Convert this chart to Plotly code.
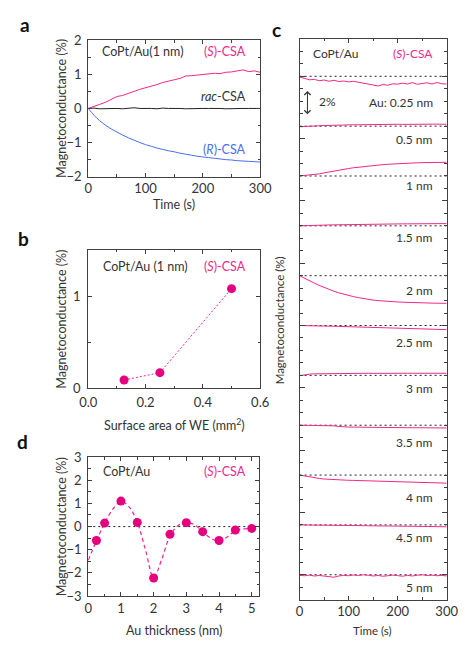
import plotly.graph_objects as go

W, H = 467, 646
FONT = "Lato"
PINK = "#F0288C"
DPINK = "#E6007E"
BLUE = "#4A6FEF"
TXT = "#333333"
AXC = "#404040"


def px(x):
    return x / W


def py(y):
    return 1 - y / H


# ---------------- data: panel a ----------------
a_time = list(range(0, 301, 10))
a_s_csa = [0.0, 0.05, 0.12, 0.18, 0.27, 0.35, 0.38, 0.45, 0.50, 0.56, 0.60,
           0.66, 0.70, 0.76, 0.79, 0.84, 0.88, 0.95, 0.96, 0.98, 0.99,
           1.01, 1.03, 1.02, 1.06, 1.07, 1.09, 1.13, 1.08, 1.10, 1.06]
a_rac_csa = [0.0, 0.01, -0.01, 0.0, 0.01, 0.0, -0.01, 0.0, 0.02, 0.0, 0.01,
             0.0, -0.01, 0.01, 0.0, 0.01, 0.0, -0.01, 0.0, 0.01, 0.0,
             0.0, 0.01, 0.0, -0.01, 0.0, 0.01, 0.0, 0.0, 0.01, 0.0]
a_r_csa = [0.0, -0.20, -0.36, -0.49, -0.60, -0.69, -0.78, -0.86, -0.93, -1.00, -1.06,
           -1.11, -1.16, -1.20, -1.24, -1.27, -1.31, -1.34, -1.37, -1.40, -1.42,
           -1.44, -1.46, -1.48, -1.50, -1.51, -1.53, -1.54, -1.55, -1.56, -1.57]

# ---------------- data: panel b ----------------
b_area = [0.125, 0.25, 0.5]
b_mc = [0.09, 0.17, 1.08]

# ---------------- data: panel d ----------------
d_thick = [0.25, 0.5, 1, 1.5, 2, 2.5, 3, 3.5, 4, 4.5, 5]
d_mc = [-0.6, 0.15, 1.1, 0.18, -2.22, -0.33, 0.17, -0.22, -0.6, -0.15, -0.08]
d_fit_x = [0, 0.25, 0.5, 0.75, 1.0, 1.25, 1.5, 1.75, 2.0, 2.25, 2.5,
           2.75, 3.0, 3.25, 3.5, 3.75, 4.0, 4.25, 4.5, 4.75, 5.0]
d_fit_y = [-1.45, -0.62, 0.15, 0.75, 1.08, 0.85, 0.18, -1.0, -2.2, -1.4, -0.4,
           0.05, 0.17, 0.08, -0.22, -0.5, -0.63, -0.45, -0.17, -0.1, -0.08]

# ---------------- data: panel c ----------------
c_time = list(range(0, 301, 10))
c_labels = ["Au: 0.25 nm", "0.5 nm", "1 nm", "1.5 nm", "2 nm", "2.5 nm",
            "3 nm", "3.5 nm", "4 nm", "4.5 nm", "5 nm"]
c_mc_025 = [-0.05, -0.15, -0.28, -0.25, -0.35, -0.30, -0.40, -0.32, -0.42, -0.38, -0.45,
            -0.40, -0.47, -0.50, -0.58, -0.70, -0.78, -0.66, -0.72, -0.60, -0.63,
            -0.55, -0.62, -0.50, -0.64, -0.58, -0.52, -0.62, -0.50, -0.60, -0.62]
c_mc_05 = [-0.05, -0.02, 0.0, 0.02, 0.04, 0.05, 0.06, 0.08, 0.08, 0.09, 0.10,
           0.11, 0.11, 0.12, 0.12, 0.13, 0.13, 0.14, 0.13, 0.14, 0.15,
           0.14, 0.15, 0.15, 0.16, 0.15, 0.16, 0.15, 0.16, 0.15, 0.16]
c_mc_1 = [0.0, 0.03, 0.05, 0.10, 0.17, 0.25, 0.33, 0.40, 0.47, 0.54, 0.60,
          0.66, 0.71, 0.76, 0.80, 0.84, 0.88, 0.91, 0.94, 0.97, 0.99,
          1.01, 1.03, 1.05, 1.06, 1.07, 1.08, 1.09, 1.10, 1.10, 1.10]
c_mc_15 = [0.0, 0.02, 0.03, 0.04, 0.05, 0.06, 0.07, 0.08, 0.09, 0.10, 0.10,
           0.11, 0.12, 0.12, 0.13, 0.13, 0.14, 0.14, 0.15, 0.15, 0.15,
           0.16, 0.16, 0.16, 0.17, 0.17, 0.17, 0.18, 0.18, 0.18, 0.18]
c_mc_2 = [0.0, -0.22, -0.42, -0.60, -0.78, -0.95, -1.10, -1.25, -1.38, -1.50, -1.60,
          -1.68, -1.76, -1.84, -1.90, -1.96, -2.00, -2.04, -2.07, -2.10, -2.11,
          -2.13, -2.15, -2.16, -2.17, -2.18, -2.19, -2.20, -2.21, -2.21, -2.22]
c_mc_25 = [0.0, 0.0, -0.01, -0.02, -0.03, -0.04, -0.05, -0.06, -0.07, -0.08, -0.09,
           -0.10, -0.11, -0.12, -0.13, -0.14, -0.15, -0.16, -0.17, -0.18, -0.20,
           -0.21, -0.22, -0.23, -0.24, -0.26, -0.27, -0.28, -0.30, -0.31, -0.33]
c_mc_3 = [-0.03, 0.05, 0.10, 0.12, 0.13, 0.14, 0.14, 0.15, 0.15, 0.15, 0.16,
          0.16, 0.16, 0.16, 0.17, 0.16, 0.17, 0.17, 0.17, 0.16, 0.17,
          0.17, 0.17, 0.17, 0.17, 0.17, 0.17, 0.17, 0.17, 0.17, 0.17]
c_mc_35 = [0.0, 0.0, -0.01, -0.01, -0.02, -0.03, -0.04, -0.05, -0.10, -0.14, -0.15,
           -0.15, -0.16, -0.16, -0.17, -0.17, -0.18, -0.18, -0.18, -0.19, -0.19,
           -0.20, -0.20, -0.20, -0.21, -0.21, -0.21, -0.22, -0.20, -0.22, -0.22]
c_mc_4 = [0.0, -0.08, -0.15, -0.21, -0.27, -0.32, -0.35, -0.37, -0.39, -0.40, -0.42,
          -0.43, -0.44, -0.45, -0.46, -0.48, -0.50, -0.51, -0.52, -0.52, -0.53,
          -0.54, -0.55, -0.55, -0.56, -0.57, -0.58, -0.59, -0.60, -0.62, -0.65]
c_mc_45 = [0.0, 0.0, -0.01, -0.01, -0.02, -0.02, -0.03, -0.03, -0.04, -0.04, -0.05,
           -0.05, -0.06, -0.06, -0.07, -0.07, -0.08, -0.08, -0.09, -0.09, -0.10,
           -0.10, -0.11, -0.11, -0.12, -0.12, -0.13, -0.13, -0.14, -0.14, -0.15]
c_mc_5 = [-0.05, -0.08, -0.03, -0.10, -0.06, -0.12, -0.15, -0.20, -0.10, -0.05, -0.08,
          -0.02, -0.06, 0.0, -0.04, -0.10, -0.06, -0.12, -0.08, -0.03, -0.07,
          -0.12, -0.05, -0.10, -0.04, 0.0, -0.06, -0.03, -0.08, -0.05, -0.10]
c_curves = [c_mc_025, c_mc_05, c_mc_1, c_mc_15, c_mc_2, c_mc_25,
            c_mc_3, c_mc_35, c_mc_4, c_mc_45, c_mc_5]

# ---------------- layout helpers ----------------
C_STEP = 4.0  # vertical offset between stacked curves in panel c (%)
label_dy = [-2.1, -1.1, -0.8, -0.9, -1.2, -1.35, -1.05, -1.4, -1.8, -1.0, -1.0]

fig = go.Figure()

# panel a
fig.add_trace(go.Scatter(x=a_time, y=a_rac_csa, mode="lines",
                         line=dict(color="#222222", width=1), xaxis="x", yaxis="y"))
fig.add_trace(go.Scatter(x=a_time, y=a_s_csa, mode="lines",
                         line=dict(color=PINK, width=1), xaxis="x", yaxis="y"))
fig.add_trace(go.Scatter(x=a_time, y=a_r_csa, mode="lines", line_shape="spline",
                         line=dict(color=BLUE, width=1), xaxis="x", yaxis="y"))

# panel b
fig.add_trace(go.Scatter(x=b_area, y=b_mc, mode="lines+markers",
                         line=dict(color=PINK, width=1, dash="2px,2px"),
                         marker=dict(color=DPINK, size=9),
                         xaxis="x2", yaxis="y2", cliponaxis=False))

# panel c
for i, (lab, curve) in enumerate(zip(c_labels, c_curves)):
    base = -C_STEP * i
    fig.add_trace(go.Scatter(x=[0, 300], y=[base, base], mode="lines",
                             line=dict(color="#222222", width=1, dash="2px,3px"),
                             xaxis="x3", yaxis="y3"))
    fig.add_trace(go.Scatter(x=c_time, y=[v + base for v in curve], mode="lines",
                             line=dict(color=PINK, width=1),
                             xaxis="x3", yaxis="y3"))

# panel d
fig.add_trace(go.Scatter(x=[0, 5.23], y=[0, 0], mode="lines",
                         line=dict(color="#222222", width=1, dash="2px,3px"),
                         xaxis="x4", yaxis="y4"))
fig.add_trace(go.Scatter(x=d_fit_x, y=d_fit_y, mode="lines", line_shape="spline",
                         line=dict(color=PINK, width=1.2, dash="4px,3px"),
                         xaxis="x4", yaxis="y4"))
fig.add_trace(go.Scatter(x=d_thick, y=d_mc, mode="markers",
                         marker=dict(color=DPINK, size=9),
                         xaxis="x4", yaxis="y4", cliponaxis=False))


def axis(domain, rng, dtick, minor_dtick, anchor, labels=True, fmt=None,
         ticklen=4, minorlen=2.5, tick0=None, standoff=None):
    d = dict(domain=domain, range=rng, dtick=dtick, anchor=anchor,
             showline=True, linecolor=AXC, linewidth=1, mirror="ticks",
             ticks="inside", ticklen=ticklen, tickcolor=AXC, tickwidth=1,
             showgrid=False, zeroline=False, showticklabels=labels,
             tickfont=dict(family=FONT, size=13, color=TXT),
             minor=dict(dtick=minor_dtick, ticks="inside", ticklen=minorlen,
                        tickcolor=AXC, showgrid=False))
    if fmt:
        d["tickformat"] = fmt
    if tick0 is not None:
        d["tick0"] = tick0
    if standoff is not None:
        d["ticklabelstandoff"] = standoff
    return d


xa = [px(83), px(263)]
fig.update_layout(
    width=W, height=H,
    margin=dict(l=0, r=0, t=0, b=0),
    paper_bgcolor="white", plot_bgcolor="white",
    showlegend=False,
    font=dict(family=FONT, color=TXT),
    xaxis=axis(xa, [0, 300], 100, 50, "y"),
    yaxis=axis([py(173), py(33)], [-2, 2], 1, 0.5, "x", standoff=3),
    xaxis2=axis(xa, [0, 0.6], 0.2, 0.1, "y2", fmt=".1f", standoff=2),
    yaxis2=axis([py(390), py(248)], [0, 1.5], 1, 0.5, "x2", standoff=4),
    xaxis3=axis([px(304.3), px(458.3)], [0, 300], 100, 50, "y3"),
    yaxis3=axis([py(606.7), py(31.7)], [-42, 3], 5, 1, "x3", labels=False,
                ticklen=5, minorlen=3, tick0=0),
    xaxis4=axis([px(83), px(262)], [0, 5.23], 1, 0.5, "y4"),
    yaxis4=axis([py(603), py(460.5)], [-3, 3], 1, 0.5, "x4", standoff=3),
)

ann = []


def ptext(x, y, text, size=12.5, color=TXT, xanchor="center", angle=0, bold=False):
    if bold:
        text = "<b>" + text + "</b>"
    ann.append(dict(x=px(x), y=py(y), xref="paper", yref="paper", text=text,
                    showarrow=False, xanchor=xanchor, yanchor="middle",
                    textangle=angle,
                    font=dict(family=FONT, size=size, color=color)))


# panel letters
ptext(17, 17, "a", size=19, color="#111", bold=True)
ptext(15, 236, "b", size=19, color="#111", bold=True)
ptext(280, 22, "c", size=19, color="#111", bold=True)
ptext(14, 445, "d", size=19, color="#111", bold=True)

# axis titles
ptext(55, 103, "Magnetoconductance (%)", angle=-90)
ptext(173, 202, "Time (s)")
ptext(55, 319, "Magnetoconductance (%)", angle=-90)
ptext(173, 427, "Surface area of WE (mm<sup>2</sup>)")
ptext(55, 532, "Magnetoconductance (%)", angle=-90)
ptext(173, 638, "Au thickness (nm)")
ptext(283, 320, "Magnetoconductance (%)", size=11.5, angle=-90)
ptext(381, 638, "Time (s)", size=11.5)

# in-plot texts
ptext(95, 45, "CoPt/Au(1 nm)", size=12.5, xanchor="left")
ptext(250, 45, "(<i>S</i>)-CSA", size=12.5, color=PINK, xanchor="right")
ptext(250, 91, "<i>rac</i>-CSA", size=12.5, xanchor="right")
ptext(250, 145, "(<i>R</i>)-CSA", size=12.5, color=BLUE, xanchor="right")

ptext(96, 265, "CoPt/Au (1 nm)", size=12.5, xanchor="left")
ptext(250, 265, "(<i>S</i>)-CSA", size=12.5, color=PINK, xanchor="right")

ptext(96, 475, "CoPt/Au", size=12.5, xanchor="left")
ptext(250, 475, "(<i>S</i>)-CSA", size=12.5, color=PINK, xanchor="right")

ptext(316, 47, "CoPt/Au", size=12, xanchor="left")
ptext(446, 47, "(<i>S</i>)-CSA", size=12, color=PINK, xanchor="right")
ptext(323, 96, "2%", size=12, xanchor="left")

for i, lab in enumerate(c_labels):
    ann.append(dict(x=300, y=-C_STEP * i + label_dy[i], xref="x3", yref="y3",
                    text=lab, showarrow=False, xanchor="right", yanchor="middle",
                    xshift=-12, font=dict(family=FONT, size=12, color=TXT)))

# 2 % scale arrow
ann.append(dict(x=16, y=-3.05, ax=16, ay=-1.05, xref="x3", yref="y3",
                axref="x3", ayref="y3", text="", showarrow=True,
                arrowhead=4, startarrowhead=4, arrowside="end+start",
                arrowsize=1.2, startarrowsize=1.2, arrowwidth=1, arrowcolor="#333"))

fig.update_layout(annotations=ann)
fig.write_html("out.html", config={"displayModeBar": False},
               post_script="document.body.style.margin='0';document.body.style.overflow='hidden';")
